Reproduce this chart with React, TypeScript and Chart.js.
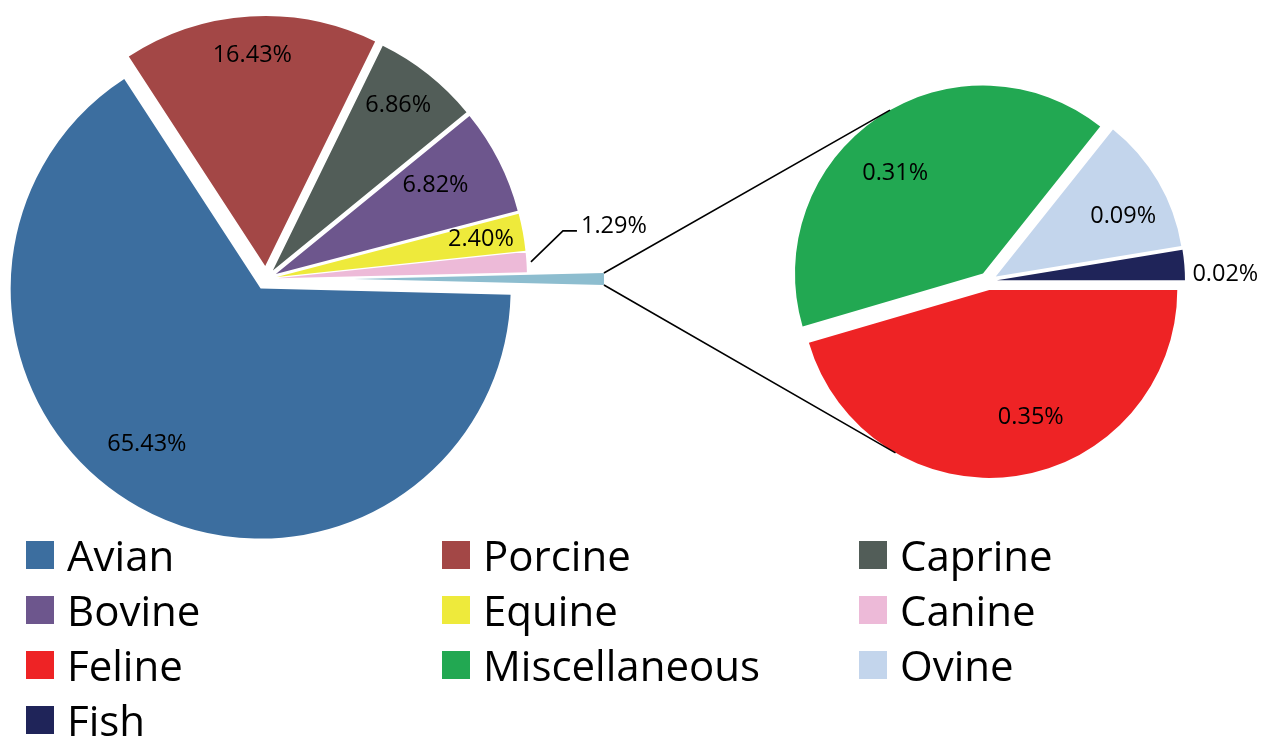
import React, { useEffect, useRef } from "react";
import { Chart, registerables } from "chart.js";

Chart.register(...registerables);

// ---------- data ----------
const mainLabels = ["Avian", "Porcine", "Caprine", "Bovine", "Equine", "Canine"];
const mainValues = [65.43, 16.43, 6.86, 6.82, 2.4, 1.29];
const subLabels = ["Feline", "Miscellaneous", "Ovine", "Fish"];
const subValues = [0.35, 0.31, 0.09, 0.02];
const legendOrder = ["Avian", "Porcine", "Caprine", "Bovine", "Equine", "Canine", "Feline", "Miscellaneous", "Ovine", "Fish"];

// ---------- styles ----------
const COLORS: Record<string, string> = {
  Avian: "#3C6E9F",
  Porcine: "#A34746",
  Caprine: "#525D58",
  Bovine: "#6D568D",
  Equine: "#EEEA3B",
  Canine: "#EDBAD8",
  Other: "#8DBDCF",
  Feline: "#EE2325",
  Miscellaneous: "#22A852",
  Ovine: "#C3D5EC",
  Fish: "#1F2459",
};

const W = 1265;
const H = 737;
const FONT = "'Open Sans', 'Noto Sans', sans-serif";
const MAIN_CENTER = { x: 266, y: 279 };
const MAIN_R = 250;
const SUB_CENTER = { x: 988, y: 281 };
const SUB_R = 188;
const mainExplode = [11, 13, 11, 11, 11, 11, 88];
const subExplode = [9, 9, 9, 9];

type LabelSpec = { r: number; f: number; align?: CanvasTextAlign; leader?: boolean; hide?: boolean };
const mainLabelSpec: LabelSpec[] = [
  { r: 0.77, f: 0.53 },
  { r: 0.845, f: 0.5 },
  { r: 0.83, f: 0.45 },
  { r: 0.73, f: 0.42 },
  { r: 0.83, f: 0.5 },
  { r: 1, f: 0.5, leader: true },
  { r: 0, f: 0, hide: true },
];
const subLabelSpec: LabelSpec[] = [
  { r: 0.715, f: 0.44 },
  { r: 0.71, f: 0.45 },
  { r: 0.75, f: 0.62 },
  { r: 1.04, f: 0.8, align: "left" },
];

const explodePlugin = (dists: number[]) => ({
  id: "explode",
  beforeDatasetsDraw(chart: any) {
    const meta = chart.getDatasetMeta(0);
    const ca = chart.chartArea;
    const cx = (ca.left + ca.right) / 2;
    const cy = (ca.top + ca.bottom) / 2;
    meta.data.forEach((arc: any, i: number) => {
      const mid = (arc.startAngle + arc.endAngle) / 2;
      arc.x = cx + dists[i] * Math.cos(mid);
      arc.y = cy + dists[i] * Math.sin(mid);
    });
  },
});

const labelPlugin = (specs: LabelSpec[], values: number[]) => ({
  id: "pctLabels",
  afterDatasetsDraw(chart: any) {
    const ctx = chart.ctx;
    const meta = chart.getDatasetMeta(0);
    ctx.save();
    ctx.font = `23.5px ${FONT}`;
    ctx.fillStyle = "#000";
    ctx.textBaseline = "middle";
    meta.data.forEach((arc: any, i: number) => {
      const s = specs[i];
      if (!s || s.hide) return;
      const txt = values[i].toFixed(2) + "%";
      const R = arc.outerRadius;
      if (s.leader) {
        const mid = (arc.startAngle + arc.endAngle) / 2;
        const sx = arc.x + (R + 4.5) * Math.cos(mid);
        const sy = arc.y + (R + 4.5) * Math.sin(mid);
        const ex = sx + 32;
        const ey = sy - 31;
        ctx.strokeStyle = "#000";
        ctx.lineWidth = 1.6;
        ctx.beginPath();
        ctx.moveTo(sx, sy);
        ctx.lineTo(ex, ey);
        ctx.lineTo(ex + 14, ey);
        ctx.stroke();
        ctx.textAlign = "left";
        ctx.fillText(txt, ex + 18, ey - 4.5);
        return;
      }
      const a = arc.startAngle + s.f * (arc.endAngle - arc.startAngle);
      const x = arc.x + s.r * R * Math.cos(a);
      const y = arc.y + s.r * R * Math.sin(a);
      ctx.textAlign = s.align || "center";
      ctx.fillText(txt, x, y);
    });
    ctx.restore();
  },
});

function tangentPoint(px: number, py: number, cx: number, cy: number, r: number, upper: boolean) {
  const dx = px - cx;
  const dy = py - cy;
  const d = Math.hypot(dx, dy);
  const phi = Math.atan2(dy, dx);
  const t = Math.acos(Math.min(1, r / d));
  const a1 = phi + t;
  const a2 = phi - t;
  const p1 = { x: cx + r * Math.cos(a1), y: cy + r * Math.sin(a1) };
  const p2 = { x: cx + r * Math.cos(a2), y: cy + r * Math.sin(a2) };
  if (upper) return p1.y < p2.y ? p1 : p2;
  return p1.y > p2.y ? p1 : p2;
}

export default function App() {
  const mainRef = useRef<HTMLCanvasElement | null>(null);
  const subRef = useRef<HTMLCanvasElement | null>(null);

  useEffect(() => {
    document.body.style.margin = "0";
    document.body.style.overflow = "hidden";
    const otherValue = subValues.reduce((s, v) => s + v, 0);
    const allMain = [...mainValues, otherValue];
    const total = allMain.reduce((s, v) => s + v, 0);
    const rotation = 90 + ((otherValue / total) * 360) / 2;

    const mainChart = new Chart(mainRef.current as HTMLCanvasElement, {
      type: "pie",
      data: {
        labels: [...mainLabels, "Other"],
        datasets: [
          {
            data: allMain,
            backgroundColor: [...mainLabels, "Other"].map((l) => COLORS[l]),
            borderWidth: 0,
          },
        ],
      },
      options: {
        animation: false,
        responsive: false,
        events: [],
        rotation,
        radius: MAIN_R,
        layout: {
          padding: { left: 0, top: 0, right: W - 2 * MAIN_CENTER.x, bottom: H - 2 * MAIN_CENTER.y },
        },
        plugins: { legend: { display: false }, tooltip: { enabled: false } },
      } as any,
      plugins: [explodePlugin(mainExplode), labelPlugin(mainLabelSpec, allMain)],
    });

    const connectorPlugin = {
      id: "connectors",
      afterDatasetsDraw(chart: any) {
        const other: any = mainChart.getDatasetMeta(0).data[allMain.length - 1];
        const arcs: any[] = chart.getDatasetMeta(0).data;
        const red = arcs[0];
        const green = arcs[1];
        const R = other.outerRadius;
        const up = { x: other.x + R * Math.cos(other.startAngle), y: other.y + R * Math.sin(other.startAngle) };
        const lo = { x: other.x + R * Math.cos(other.endAngle), y: other.y + R * Math.sin(other.endAngle) };
        const tu = tangentPoint(up.x, up.y, green.x, green.y, green.outerRadius, true);
        const tl = tangentPoint(lo.x, lo.y, red.x, red.y, red.outerRadius, false);
        const ctx = chart.ctx;
        ctx.save();
        ctx.strokeStyle = "#000";
        ctx.lineWidth = 1.6;
        ctx.beginPath();
        ctx.moveTo(up.x, up.y);
        ctx.lineTo(tu.x, tu.y);
        ctx.moveTo(lo.x, lo.y);
        ctx.lineTo(tl.x, tl.y);
        ctx.stroke();
        ctx.restore();
      },
    };

    const subChart = new Chart(subRef.current as HTMLCanvasElement, {
      type: "pie",
      data: {
        labels: subLabels,
        datasets: [
          {
            data: subValues,
            backgroundColor: subLabels.map((l) => COLORS[l]),
            borderWidth: 0,
          },
        ],
      },
      options: {
        animation: false,
        responsive: false,
        events: [],
        rotation: 90,
        radius: SUB_R,
        layout: {
          padding: { left: 2 * SUB_CENTER.x - W, top: 0, right: 0, bottom: H - 2 * SUB_CENTER.y },
        },
        plugins: { legend: { display: false }, tooltip: { enabled: false } },
      } as any,
      plugins: [explodePlugin(subExplode), labelPlugin(subLabelSpec, subValues), connectorPlugin],
    });

    return () => {
      subChart.destroy();
      mainChart.destroy();
    };
  }, []);

  const colX = [26, 442, 859];
  const rowY0 = 541;
  const rowStep = 55;

  return (
    <div style={{ position: "absolute", left: 0, top: 0, width: W, height: H, background: "#fff", overflow: "hidden" }}>
      <canvas ref={mainRef} width={W} height={H} style={{ position: "absolute", left: 0, top: 0, width: W, height: H }} />
      <canvas ref={subRef} width={W} height={H} style={{ position: "absolute", left: 0, top: 0, width: W, height: H }} />
      {legendOrder.map((name, i) => {
        const col = i % 3;
        const row = Math.floor(i / 3);
        const x = colX[col];
        const y = rowY0 + row * rowStep;
        return (
          <React.Fragment key={name}>
            <div style={{ position: "absolute", left: x, top: y, width: 28, height: 28, background: COLORS[name] }} />
            <div
              style={{
                position: "absolute",
                left: x + 41,
                top: y - 7,
                fontFamily: FONT,
                fontSize: 42,
                lineHeight: "41px",
                color: "#000",
                whiteSpace: "nowrap",
              }}
            >
              {name}
            </div>
          </React.Fragment>
        );
      })}
    </div>
  );
}
